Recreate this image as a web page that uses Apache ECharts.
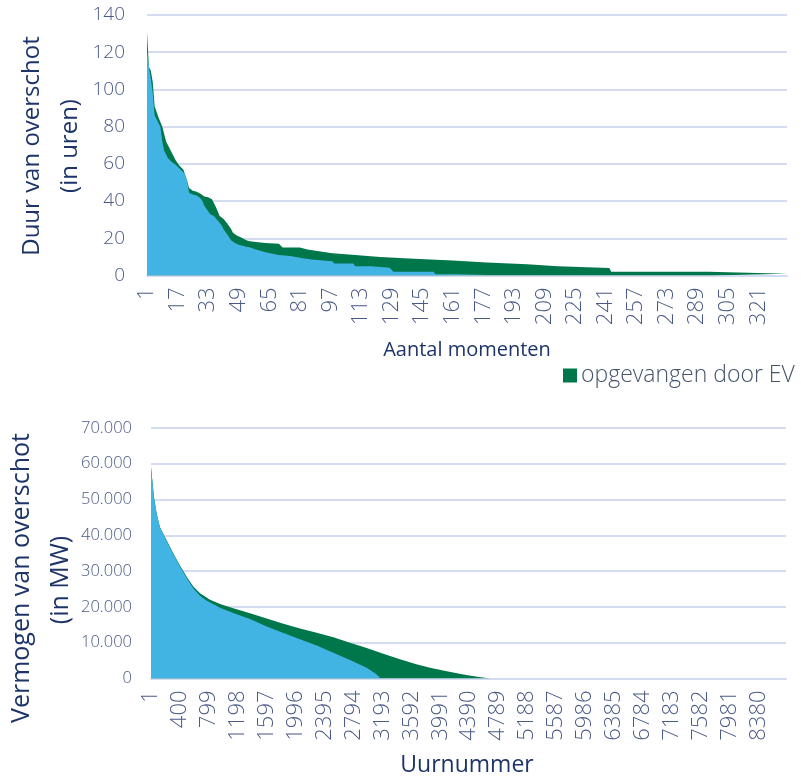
<!DOCTYPE html>
<html>
<head>
<meta charset="utf-8">
<script src="https://cdn.jsdelivr.net/npm/echarts@6/dist/echarts.min.js"></script>
<style>
  html, body { margin: 0; padding: 0; background: #ffffff; }
  #chart { width: 801px; height: 779px; }
</style>
</head>
<body>
<div id="chart"></div>
<script>
// Overschot-duur (uren) per moment, gesorteerd van lang naar kort.
// Punten zijn [momentindex, waarde]; tussen de punten loopt de lijn recht door.
const momentCount = 336;
const momentLabels = [];
for (let i = 1; i <= momentCount; i++) momentLabels.push(String(i));

// totale duur van overschot (zonder EV) -> groen zichtbaar boven blauw
const durationTotal = [
  [0,131],[1,112],[2,110],[3,104],[4,91],[5,88],[6,85],[7,84],[8,80],[9,76],
  [10,72],[11,70],[12,68],[13,66],[14,64],[15,62],[16,61],[17,59],[18,58],[19,57],
  [20,56],[21,51],[22,47],[23,46],[24,45.5],[25,45],[26,45],[27,44.5],[28,44],[29,43],
  [30,42.5],[31,42.5],[32,42],[33,41.5],[34,41],[35,40],[36,37],[37,34.5],[38,32],[39,31],
  [40,30.5],[41,30],[42,28],[43,26.5],[44,25],[45,23],[46,22],[47,21.5],[48,21],[49,20.5],
  [50,20],[51,19.5],[52,19.3],[53,18.5],[57,18],[62,17.5],[63,17],[69,17],[70,16],[71,15],
  [80,15],[81,14],[84,14],[85,13],[90,13],[91,12],[97,12],[98,11],[109,11],[110,10],
  [122,10],[123,9],[140,9],[141,8],[160,8],[161,7],[178,7],[179,6],[199,6],[200,5],
  [215,5],[216,4],[242,4],[243,2],[294,2],[295,1],[335,1]
];

// resterende duur van overschot na inzet van EV
const durationRemaining = [
  [0,121],[1,112],[2,106],[3,98],[4,86],[5,84],[6,83],[7,80],[8,72],[9,67],
  [10,65],[11,63],[12,62],[13,61],[14,60],[15,59.5],[16,59],[17,57.5],[18,56.5],[19,55.5],
  [20,54],[21,51],[22,44.5],[23,44],[24,43.5],[25,43.5],[26,43],[27,42.5],[28,41.5],[29,40],
  [30,37.5],[31,36],[32,34.5],[33,33],[34,32.5],[35,32],[36,31],[37,29.5],[38,28.3],[39,27],
  [40,25],[41,23.5],[42,22],[43,20.5],[44,19],[45,18],[46,17.5],[47,17],[48,16.5],[49,16],
  [52,15.4],[54,15],[57,14],[62,12.5],[63,12],[69,11],[70,10.5],[75,10.5],[76,9.5],[80,9.5],
  [81,8.6],[86,8.6],[87,7.7],[97,7.7],[98,6.4],[108,6.4],[109,5],[117,5],[118,4.1],[127,4.1],
  [128,3.2],[129,2],[150,2],[151,0.7],[178,0.7],[179,0]
];

// Vermogen van overschot (MW) per uur van het jaar, gesorteerd.
const hourCount = 8760;
const hourLabels = [];
for (let i = 1; i <= hourCount; i++) hourLabels.push(String(i));

const powerTotal = [
  [0,59100],[41,50700],[78,46100],[124,42300],[216,38600],[308,34900],[400,31600],
  [492,28400],[584,25700],[676,23800],[814,22000],[952,20800],[1135,19600],[1366,18200],
  [1596,16800],[1826,15300],[2055,14000],[2285,12800],[2515,11500],[2745,10000],
  [2975,8500],[3204,6900],[3434,5400],[3660,4000],[3848,3000],[4080,2000],[4308,1100],
  [4500,500],[4680,0]
];

const powerRemaining = [
  [0,59000],[41,50500],[78,46000],[124,42200],[216,38400],[308,34700],[400,31300],
  [492,28100],[584,25200],[676,23100],[770,21700],[952,19800],[1135,18300],[1366,16600],
  [1596,14500],[1826,12700],[2055,11000],[2285,9200],[2515,7200],[2745,5200],
  [2975,3000],[3100,1300],[3170,0]
];

const durationTicks = { min: 0, max: 140, step: 20 };
const powerTicks = { min: 0, max: 70000, step: 10000 };

const GREEN = '#00774a';
const BLUE = '#41b4e4';
const GRID_LINE = '#d3dcf1';
const TICK_TEXT = '#4a5a86';
const TITLE_TEXT = '#1e3468';
const FONT = '"Open Sans", "Noto Sans", sans-serif';

function dutchThousands(v) {
  return String(v).replace(/\B(?=(\d{3})+(?!\d))/g, '.');
}

function areaSeries(name, data, color, axisIndex) {
  return {
    name: name,
    type: 'line',
    xAxisIndex: axisIndex,
    yAxisIndex: axisIndex,
    data: data,
    symbol: 'none',
    showSymbol: false,
    smooth: false,
    lineStyle: { width: 0, color: color },
    itemStyle: { color: color },
    areaStyle: { color: color, opacity: 1 },
    silent: true,
    animation: false
  };
}

function categoryAxis(gridIndex, labels, every, margin) {
  return {
    type: 'category',
    gridIndex: gridIndex,
    data: labels,
    boundaryGap: false,
    axisLine: { show: true, lineStyle: { color: GRID_LINE, width: 2 } },
    axisTick: { show: false },
    splitLine: { show: false },
    axisLabel: {
      interval: every,
      rotate: 90,
      margin: margin,
      color: TICK_TEXT,
      fontFamily: FONT,
      fontWeight: 300,
      fontSize: 22
    }
  };
}

function valueAxis(gridIndex, ticks, fontSize, margin, formatter) {
  return {
    type: 'value',
    gridIndex: gridIndex,
    min: ticks.min,
    max: ticks.max,
    interval: ticks.step,
    axisLine: { show: false },
    axisTick: { show: false },
    splitLine: { show: true, lineStyle: { color: GRID_LINE, width: 2 } },
    axisLabel: {
      color: TICK_TEXT,
      fontFamily: FONT,
      fontWeight: 300,
      fontSize: fontSize,
      margin: margin,
      formatter: formatter
    }
  };
}

const chart = echarts.init(document.getElementById('chart'), null, { renderer: 'canvas' });

chart.setOption({
  backgroundColor: '#ffffff',
  animation: false,
  grid: [
    { left: 147, top: 15, width: 640, height: 260.5 },
    { left: 151, top: 428, width: 635, height: 250.5 }
  ],
  xAxis: [
    categoryAxis(0, momentLabels, 15, 12),
    categoryAxis(1, hourLabels, 398, 12)
  ],
  yAxis: [
    valueAxis(0, durationTicks, 19, 22, v => String(v)),
    valueAxis(1, powerTicks, 16.5, 19, v => dutchThousands(v))
  ],
  legend: {
    data: ['opgevangen door EV'],
    left: 563,
    top: 364,
    padding: 0,
    icon: 'rect',
    itemWidth: 14,
    itemHeight: 14,
    itemGap: 10,
    textStyle: { color: '#44546a', fontFamily: FONT, fontWeight: 300, fontSize: 23, padding: [0, 0, 0, -1] },
    selectedMode: false
  },
  graphic: [
    { type: 'text', x: 32, y: 146, rotation: Math.PI / 2,
      style: { text: 'Duur van overschot', fill: TITLE_TEXT, font: '24px ' + FONT, align: 'center', verticalAlign: 'middle' } },
    { type: 'text', x: 70, y: 146, rotation: Math.PI / 2,
      style: { text: '(in uren)', fill: TITLE_TEXT, font: '24px ' + FONT, align: 'center', verticalAlign: 'middle' } },
    { type: 'text', x: 467, y: 350,
      style: { text: 'Aantal momenten', fill: TITLE_TEXT, font: '20px ' + FONT, align: 'center', verticalAlign: 'middle' } },
    { type: 'text', x: 22, y: 578, rotation: Math.PI / 2,
      style: { text: 'Vermogen van overschot', fill: TITLE_TEXT, font: '25px ' + FONT, align: 'center', verticalAlign: 'middle' } },
    { type: 'text', x: 61, y: 580, rotation: Math.PI / 2,
      style: { text: '(in MW)', fill: TITLE_TEXT, font: '25px ' + FONT, align: 'center', verticalAlign: 'middle' } },
    { type: 'text', x: 467, y: 765,
      style: { text: 'Uurnummer', fill: TITLE_TEXT, font: '23px ' + FONT, align: 'center', verticalAlign: 'middle' } }
  ],
  series: [
    areaSeries('opgevangen door EV', durationTotal, GREEN, 0),
    areaSeries('resterend overschot', durationRemaining, BLUE, 0),
    areaSeries('opgevangen door EV', powerTotal, GREEN, 1),
    areaSeries('resterend overschot', powerRemaining, BLUE, 1)
  ]
});
</script>
</body>
</html>
